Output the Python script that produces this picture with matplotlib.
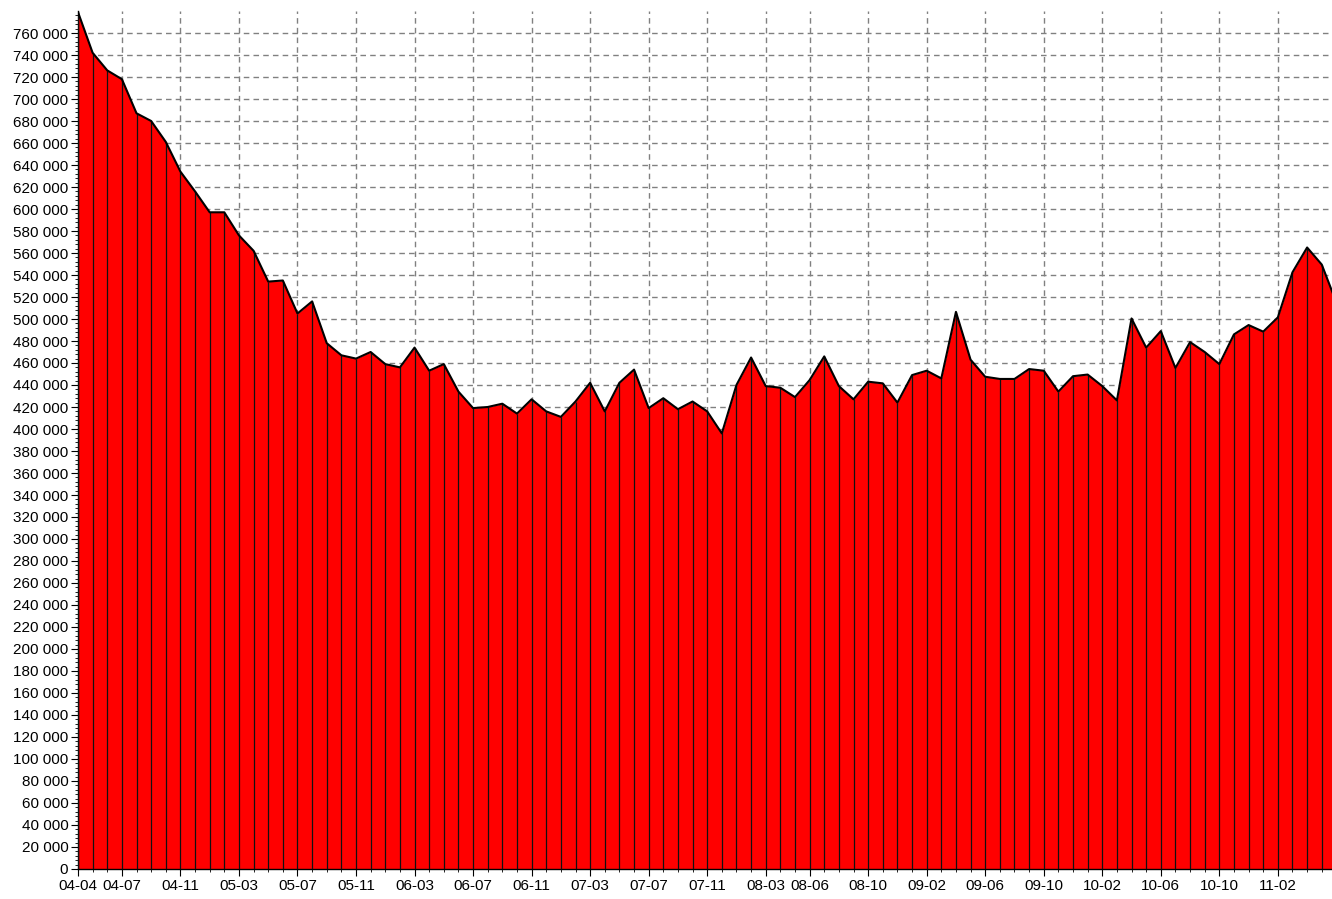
import numpy as np
import matplotlib
matplotlib.use("Agg")
import matplotlib.pyplot as plt
from matplotlib.ticker import MultipleLocator, FuncFormatter, FixedLocator

plt.rcParams['font.family'] = ['Liberation Sans', 'DejaVu Sans']

# monthly values, starting 2004-04
values = [779000, 742000, 726000, 718000, 687000, 680000, 661000, 634000, 616000, 597000,
          597000, 576000, 562000, 534000, 535000, 505000, 516000, 478000, 467000, 464000,
          470000, 459000, 456000, 474000, 453000, 459000, 434000, 419000, 420000, 423000,
          414000, 427000, 416000, 411000, 425000, 442000, 416000, 442000, 454000, 419000,
          428000, 418000, 425000, 416000, 396000, 440000, 465000, 439000, 437500, 429000,
          444500, 466000, 439000, 427000, 443000, 441500, 424000, 449000, 453000, 446000,
          506500, 463000, 447500, 445500, 445500, 454500, 453000, 434000, 448000, 449500,
          439000, 426000, 500500, 474000, 489000, 455500, 479000, 470000, 459000, 486000,
          494500, 488500, 501500, 542500, 565000, 549500, 515000]

months = [f"{(2004 + (3 + i) // 12) % 100:02d}-{(3 + i) % 12 + 1:02d}" for i in range(len(values))]

tick_labels = ["04-04", "04-07", "04-11", "05-03", "05-07", "05-11", "06-03", "06-07",
               "06-11", "07-03", "07-07", "07-11", "08-03", "08-06", "08-10", "09-02",
               "09-06", "09-10", "10-02", "10-06", "10-10", "11-02"]

x = np.arange(len(values))
tick_pos = [months.index(t) for t in tick_labels]

ytop = 779900
fig = plt.figure(figsize=(13.32, 8.99), dpi=100)
top_px = 869 - ytop * 836 / 760000
ax = fig.add_axes([78 / 1332, 1 - 869 / 899, 1 - 78 / 1332, (869 - top_px) / 899])

ax.fill_between(x, values, 0, color='#ff0000', zorder=2, linewidth=0)
ax.vlines(x, 0, values, color='#111111', linewidth=0.9, zorder=3)
ax.plot(x, values, color='black', linewidth=1.5, zorder=4)

ax.set_xlim(0, 85.7)
ax.set_ylim(0, ytop)

ax.yaxis.set_major_locator(MultipleLocator(20000))
ax.yaxis.set_minor_locator(MultipleLocator(4000))
ax.yaxis.set_major_formatter(FuncFormatter(lambda v, p: f"{int(v):,}".replace(",", " ")))

ax.xaxis.set_major_locator(FixedLocator(tick_pos))
ax.set_xticklabels(tick_labels)
ax.xaxis.set_minor_locator(MultipleLocator(1))

ax.tick_params(axis='both', which='major', direction='out', length=5, width=0.8,
               labelsize=11, colors='black', pad=2)
ax.tick_params(axis='both', which='minor', direction='out', length=2.5, width=0.6)

ax.set_axisbelow(True)
ax.grid(True, which='major', color='#808080', linestyle=(0, (4, 3)), linewidth=1)

for s in ['top', 'right']:
    ax.spines[s].set_visible(False)
ax.spines['left'].set_linewidth(1)
ax.spines['bottom'].set_linewidth(1)

fig.savefig("out.png", dpi=100)
